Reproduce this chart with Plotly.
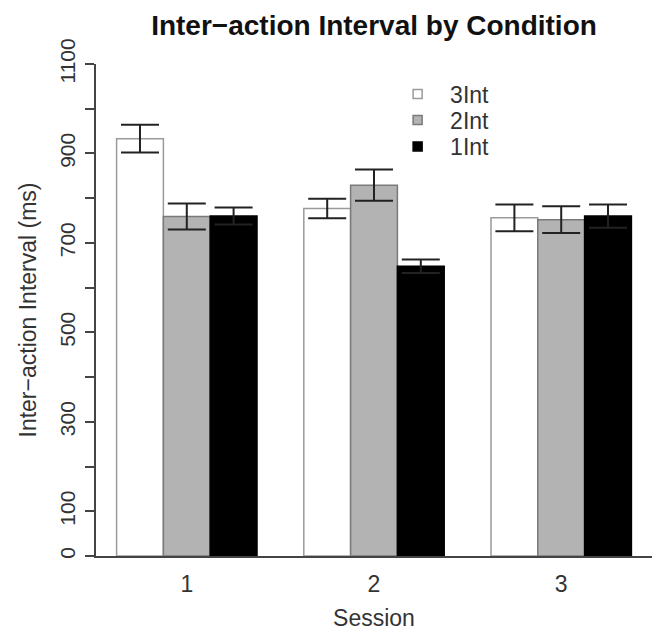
import plotly.graph_objects as go

sessions = ["1", "2", "3"]
conditions = ["3Int", "2Int", "1Int"]
means = {
    "3Int": [933, 777, 756],
    "2Int": [759, 829, 752],
    "1Int": [760, 648, 760],
}
errors = {
    "3Int": [31, 22, 30],
    "2Int": [29, 35, 30],
    "1Int": [19, 15, 26],
}
fill_colors = {"3Int": "#ffffff", "2Int": "#b3b3b3", "1Int": "#000000"}
line_colors = {"3Int": "#9a9a9a", "2Int": "#7a7a7a", "1Int": "#000000"}
legend_ids = {"3Int": "legend", "2Int": "legend2", "1Int": "legend3"}
legend_rows_px = {"3Int": 94, "2Int": 120, "1Int": 146.5}

y_tickvals = list(range(0, 1101, 100))
y_ticktext = [str(v) if (v == 0 or v % 200 == 100) else "" for v in y_tickvals]

FONT = "Liberation Sans, Arial, sans-serif"
H = 631
T, B = 64, 75

fig = go.Figure()
for c in conditions:
    fig.add_trace(go.Bar(
        x=sessions, y=means[c], name=c, showlegend=False,
        marker=dict(color=fill_colors[c], line=dict(color=line_colors[c], width=1.5)),
        error_y=dict(type="data", array=errors[c], visible=True,
                     color="#222222", thickness=2, width=19),
    ))
    fig.add_trace(go.Scatter(
        x=[None], y=[None], mode="markers", name=c, showlegend=True,
        legend=legend_ids[c],
        marker=dict(symbol="square", size=9, color=fill_colors[c],
                    line=dict(color=line_colors[c], width=1.5)),
    ))

legend_common = dict(x=0.52, xanchor="left", yanchor="middle", xref="paper", yref="paper",
                     font=dict(size=23, color="#333333", family=FONT),
                     bgcolor="rgba(0,0,0,0)", itemwidth=55)
legends = {}
for c in conditions:
    ypaper = (H - B - legend_rows_px[c]) / (H - T - B)
    legends[legend_ids[c]] = dict(legend_common, y=ypaper)

fig.update_layout(
    width=652, height=H,
    margin=dict(l=96, r=0, t=T, b=B),
    paper_bgcolor="white", plot_bgcolor="white",
    barmode="group", bargap=0.25, bargroupgap=0,
    font=dict(family=FONT, color="#333333"),
    title=dict(text="<b>Inter−action Interval by Condition</b>",
               x=0.5, xref="paper", xanchor="center",
               y=1 - 25 / H, yref="container", yanchor="middle",
               font=dict(size=28, color="#111111", family=FONT)),
    xaxis=dict(range=[-0.485, 2.485], type="category", automargin=False,
               showline=True, linecolor="#444444", linewidth=1.5,
               ticks="", tickfont=dict(size=23, color="#333333"), ticklabelstandoff=7,
               title=dict(text="Session", font=dict(size=23, color="#333333"), standoff=21),
               showgrid=False, zeroline=False, fixedrange=True),
    yaxis=dict(range=[0, 1100], showline=True, linecolor="#444444", linewidth=1.5, automargin=False,
               ticks="outside", ticklen=9, tickwidth=1.5, tickcolor="#444444",
               tickvals=y_tickvals, ticktext=y_ticktext, tickangle=-90,
               tickfont=dict(size=21, color="#333333"), ticklabelstandoff=2,
               title=dict(text="Inter−action Interval (ms)", font=dict(size=23, color="#333333"), standoff=13),
               showgrid=False, zeroline=False),
    **legends,
)

fig.write_html("out.html")
